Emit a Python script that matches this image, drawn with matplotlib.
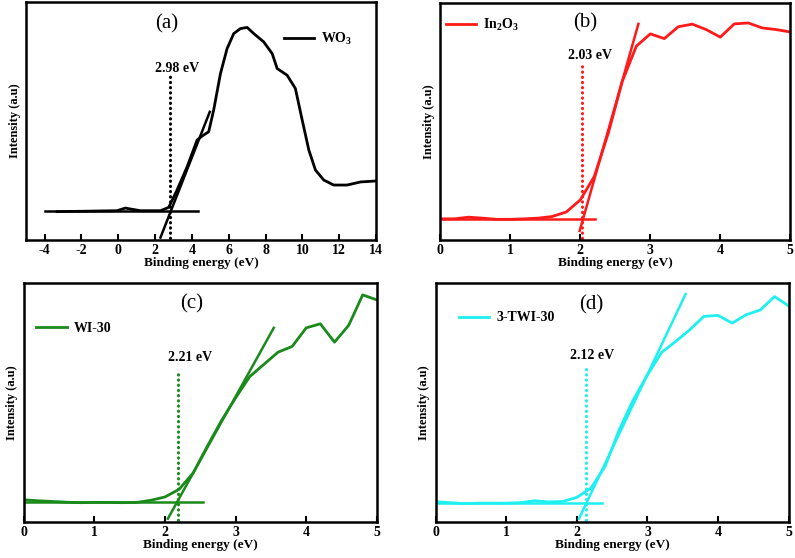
import matplotlib
matplotlib.use("Agg")
import matplotlib.pyplot as plt

plt.rcParams['font.family'] = ['Liberation Serif', 'DejaVu Serif']
plt.rcParams['mathtext.fontset'] = 'custom'
plt.rcParams['mathtext.rm'] = 'Liberation Serif'
plt.rcParams['mathtext.bf'] = 'Liberation Serif:bold'
plt.rcParams['axes.unicode_minus'] = False

# (a) WO3
wo3_x = [-3.33, -0.07, 0.38, 1.2, 2.29, 2.74, 3.19, 3.74, 4.28, 4.55, 4.91, 5.18, 5.55,
         5.91, 6.27, 6.63, 7.0, 7.36, 7.9, 8.36, 8.63, 9.17, 9.62, 9.99, 10.35, 10.71,
         11.16, 11.7, 12.43, 13.16, 14.0]
wo3_y = [0.119, 0.123, 0.134, 0.123, 0.123, 0.137, 0.21, 0.308, 0.42, 0.437, 0.455, 0.546,
         0.70, 0.805, 0.868, 0.889, 0.894, 0.868, 0.833, 0.784, 0.721, 0.693, 0.637, 0.504,
         0.378, 0.294, 0.252, 0.231, 0.231, 0.244, 0.248]

# (b), (c), (d) share the energy grid
grid = [0.0, 0.2, 0.4, 0.6, 0.8, 1.0, 1.2, 1.4, 1.6, 1.8, 2.0, 2.2, 2.4, 2.6, 2.8,
        3.0, 3.2, 3.4, 3.6, 3.8, 4.0, 4.2, 4.4, 4.6, 4.8, 5.0]
in2o3_y = [0.089, 0.089, 0.096, 0.092, 0.087, 0.087, 0.089, 0.092, 0.099, 0.118, 0.169,
           0.268, 0.451, 0.669, 0.817, 0.869, 0.849, 0.899, 0.91, 0.887, 0.855, 0.911,
           0.915, 0.894, 0.887, 0.877]
wi30_y = [0.093, 0.089, 0.086, 0.083, 0.081, 0.082, 0.082, 0.081, 0.082, 0.091, 0.105,
          0.137, 0.206, 0.318, 0.425, 0.52, 0.609, 0.66, 0.711, 0.735, 0.813, 0.83,
          0.753, 0.823, 0.951, 0.93]
twi30_y = [0.085, 0.081, 0.077, 0.079, 0.079, 0.079, 0.081, 0.089, 0.084, 0.086, 0.103,
           0.142, 0.233, 0.386, 0.512, 0.616, 0.71, 0.756, 0.805, 0.861, 0.865, 0.833,
           0.868, 0.888, 0.944, 0.905]

# baseline, tangent and band-gap marker for each panel
panels = [
    dict(tag="(a)", label=r"$\mathbf{WO_3}$", color="black", x=wo3_x, y=wo3_y,
         base=([-4, 4.33], [0.122, 0.122]), tan=([2.29, 4.97], [0.01, 0.539]),
         gap=2.83, gap_top=0.693, gap_text="2.98 eV", text_xy=(3.19, 0.695),
         tag_xy=(2.65, 0.91), xlim=(-5, 14), xticks=range(-4, 15, 2),
         rect=[0.033, 0.570, 0.440, 0.426], leg_loc=(0.70, 0.76)),
    dict(tag="(b)", label=r"$\mathbf{In_2O_3}$", color="#ff1a1a", x=grid, y=in2o3_y,
         base=([0, 2.21], [0.089, 0.089]), tan=([1.99, 2.83], [0.038, 0.911]),
         gap=2.03, gap_top=0.739, gap_text="2.03 eV", text_xy=(2.14, 0.75),
         tag_xy=(2.07, 0.915), xlim=(0, 5), xticks=range(0, 6),
         rect=[0.554, 0.570, 0.440, 0.425], leg_loc=(-0.02, 0.82)),
    dict(tag="(c)", label="WI-30", color="#1a8a1a", x=grid, y=wi30_y,
         base=([0, 2.54], [0.082, 0.082]), tan=([2.04, 3.54], [0.014, 0.813]),
         gap=2.18, gap_top=0.637, gap_text="2.21 eV", text_xy=(2.36, 0.66),
         tag_xy=(2.38, 0.913), xlim=(0, 5), xticks=range(0, 6),
         rect=[0.030, 0.0645, 0.444, 0.428], leg_loc=(0.0, 0.73)),
    dict(tag="(d)", label="3-TWI-30", color="#1ef0f0", x=grid, y=twi30_y,
         base=([0, 2.36], [0.078, 0.078]), tan=([2.03, 3.54], [0.014, 0.954]),
         gap=2.13, gap_top=0.654, gap_text="2.12 eV", text_xy=(2.22, 0.672),
         tag_xy=(2.21, 0.909), xlim=(0, 5), xticks=range(0, 6),
         rect=[0.548, 0.0645, 0.444, 0.428], leg_loc=(0.03, 0.775)),
]

fig = plt.figure(figsize=(7.95, 5.58), dpi=100)

for p in panels:
    ax = fig.add_axes(p["rect"])
    c = p["color"]
    ax.plot(p["x"], p["y"], color=c, lw=2, label=p["label"])
    ax.plot(*p["base"], color=c, lw=1.8)
    ax.plot(*p["tan"], color=c, lw=1.8)
    ax.plot([p["gap"], p["gap"]], [0.007, p["gap_top"]], color=c, lw=2.2,
            linestyle=(0, (0.1, 1.6)), dash_capstyle="round")
    ax.text(*p["text_xy"], p["gap_text"], ha="center", va="bottom",
            fontsize=10, fontweight="bold")
    ax.text(*p["tag_xy"], p["tag"], ha="center", va="center", fontsize=15)
    ax.set_xlim(*p["xlim"])
    ax.set_ylim(0, 1)
    ax.set_xticks(list(p["xticks"]))
    ax.set_yticks([])
    ax.tick_params(axis="x", direction="in", length=4, width=1.5, labelsize=10, pad=3)
    for lab in ax.get_xticklabels():
        lab.set_fontweight("bold")
    for s in ax.spines.values():
        s.set_linewidth(1.8)
    ax.set_xlabel("Binding energy (eV)", fontsize=9.5, fontweight="bold", labelpad=0)
    ax.set_ylabel("Intensity (a.u)", fontsize=9, fontweight="bold", labelpad=4)
    ax.legend(loc="lower left", bbox_to_anchor=p["leg_loc"], frameon=False,
              handlelength=2.2, handletextpad=0.5, prop={"weight": "bold", "size": 10})

fig.savefig("out.png", dpi=100)
